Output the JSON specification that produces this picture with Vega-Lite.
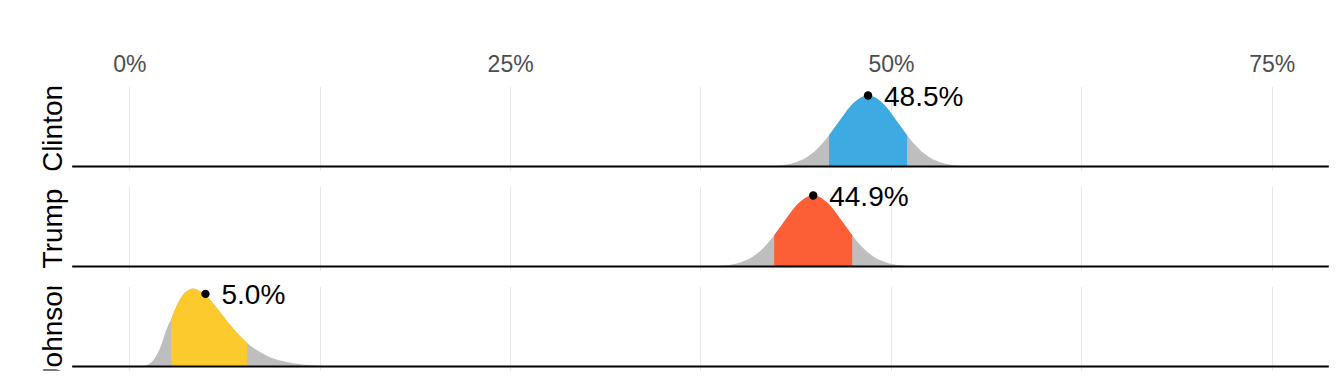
{
  "$schema": "https://vega.github.io/schema/vega-lite/v6.json",
  "padding": {"top": 53.5, "left": 0, "right": 0, "bottom": 0},
  "bounds": "flush",
  "background": "white",
  "data": {"values": [
    {"c":"Clinton","k":"d","x":41.5,"y":0.0004,"i":0},
    {"c":"Clinton","k":"d","x":42,"y":0.0010,"i":0},
    {"c":"Clinton","k":"d","x":42.5,"y":0.0022,"i":0},
    {"c":"Clinton","k":"d","x":43,"y":0.0046,"i":0},
    {"c":"Clinton","k":"d","x":43.5,"y":0.0088,"i":0},
    {"c":"Clinton","k":"d","x":44,"y":0.0159,"i":0},
    {"c":"Clinton","k":"d","x":44.5,"y":0.0270,"i":0},
    {"c":"Clinton","k":"d","x":45,"y":0.0431,"i":0},
    {"c":"Clinton","k":"d","x":45.5,"y":0.0648,"i":0},
    {"c":"Clinton","k":"d","x":45.94,"y":0.0879,"i":1},
    {"c":"Clinton","k":"d","x":46,"y":0.0913,"i":1},
    {"c":"Clinton","k":"d","x":46.5,"y":0.1210,"i":1},
    {"c":"Clinton","k":"d","x":47,"y":0.1506,"i":1},
    {"c":"Clinton","k":"d","x":47.5,"y":0.1760,"i":1},
    {"c":"Clinton","k":"d","x":48,"y":0.1933,"i":1},
    {"c":"Clinton","k":"d","x":48.5,"y":0.1995,"i":1},
    {"c":"Clinton","k":"d","x":49,"y":0.1933,"i":1},
    {"c":"Clinton","k":"d","x":49.5,"y":0.1760,"i":1},
    {"c":"Clinton","k":"d","x":50,"y":0.1506,"i":1},
    {"c":"Clinton","k":"d","x":50.5,"y":0.1210,"i":1},
    {"c":"Clinton","k":"d","x":51,"y":0.0913,"i":1},
    {"c":"Clinton","k":"d","x":51.06,"y":0.0879,"i":1},
    {"c":"Clinton","k":"d","x":51.5,"y":0.0648,"i":0},
    {"c":"Clinton","k":"d","x":52,"y":0.0431,"i":0},
    {"c":"Clinton","k":"d","x":52.5,"y":0.0270,"i":0},
    {"c":"Clinton","k":"d","x":53,"y":0.0159,"i":0},
    {"c":"Clinton","k":"d","x":53.5,"y":0.0088,"i":0},
    {"c":"Clinton","k":"d","x":54,"y":0.0046,"i":0},
    {"c":"Clinton","k":"d","x":54.5,"y":0.0022,"i":0},
    {"c":"Clinton","k":"d","x":55,"y":0.0010,"i":0},
    {"c":"Clinton","k":"d","x":55.5,"y":0.0004,"i":0},
    {"c":"Clinton","k":"m","x":48.5,"y":0.1995,"label":"48.5%"},
    {"c":"Trump","k":"d","x":37.9,"y":0.0004,"i":0},
    {"c":"Trump","k":"d","x":38.4,"y":0.0010,"i":0},
    {"c":"Trump","k":"d","x":38.9,"y":0.0022,"i":0},
    {"c":"Trump","k":"d","x":39.4,"y":0.0046,"i":0},
    {"c":"Trump","k":"d","x":39.9,"y":0.0088,"i":0},
    {"c":"Trump","k":"d","x":40.4,"y":0.0159,"i":0},
    {"c":"Trump","k":"d","x":40.9,"y":0.0270,"i":0},
    {"c":"Trump","k":"d","x":41.4,"y":0.0431,"i":0},
    {"c":"Trump","k":"d","x":41.9,"y":0.0648,"i":0},
    {"c":"Trump","k":"d","x":42.34,"y":0.0879,"i":1},
    {"c":"Trump","k":"d","x":42.4,"y":0.0913,"i":1},
    {"c":"Trump","k":"d","x":42.9,"y":0.1210,"i":1},
    {"c":"Trump","k":"d","x":43.4,"y":0.1506,"i":1},
    {"c":"Trump","k":"d","x":43.9,"y":0.1760,"i":1},
    {"c":"Trump","k":"d","x":44.4,"y":0.1933,"i":1},
    {"c":"Trump","k":"d","x":44.9,"y":0.1995,"i":1},
    {"c":"Trump","k":"d","x":45.4,"y":0.1933,"i":1},
    {"c":"Trump","k":"d","x":45.9,"y":0.1760,"i":1},
    {"c":"Trump","k":"d","x":46.4,"y":0.1506,"i":1},
    {"c":"Trump","k":"d","x":46.9,"y":0.1210,"i":1},
    {"c":"Trump","k":"d","x":47.4,"y":0.0913,"i":1},
    {"c":"Trump","k":"d","x":47.46,"y":0.0879,"i":1},
    {"c":"Trump","k":"d","x":47.9,"y":0.0648,"i":0},
    {"c":"Trump","k":"d","x":48.4,"y":0.0431,"i":0},
    {"c":"Trump","k":"d","x":48.9,"y":0.0270,"i":0},
    {"c":"Trump","k":"d","x":49.4,"y":0.0159,"i":0},
    {"c":"Trump","k":"d","x":49.9,"y":0.0088,"i":0},
    {"c":"Trump","k":"d","x":50.4,"y":0.0046,"i":0},
    {"c":"Trump","k":"d","x":50.9,"y":0.0022,"i":0},
    {"c":"Trump","k":"d","x":51.4,"y":0.0010,"i":0},
    {"c":"Trump","k":"d","x":51.9,"y":0.0004,"i":0},
    {"c":"Trump","k":"m","x":44.9,"y":0.1995,"label":"44.9%"},
    {"c":"Johnson","k":"d","x":0.5,"y":0,"i":0},
    {"c":"Johnson","k":"d","x":1.0,"y":0.002,"i":0},
    {"c":"Johnson","k":"d","x":1.5,"y":0.014,"i":0},
    {"c":"Johnson","k":"d","x":2.0,"y":0.050,"i":0},
    {"c":"Johnson","k":"d","x":2.5,"y":0.110,"i":0},
    {"c":"Johnson","k":"d","x":2.76,"y":0.134,"i":1},
    {"c":"Johnson","k":"d","x":3.0,"y":0.160,"i":1},
    {"c":"Johnson","k":"d","x":3.5,"y":0.200,"i":1},
    {"c":"Johnson","k":"d","x":4.0,"y":0.217,"i":1},
    {"c":"Johnson","k":"d","x":4.2,"y":0.219,"i":1},
    {"c":"Johnson","k":"d","x":4.5,"y":0.215,"i":1},
    {"c":"Johnson","k":"d","x":5.0,"y":0.201,"i":1},
    {"c":"Johnson","k":"d","x":5.5,"y":0.178,"i":1},
    {"c":"Johnson","k":"d","x":6.0,"y":0.151,"i":1},
    {"c":"Johnson","k":"d","x":6.5,"y":0.123,"i":1},
    {"c":"Johnson","k":"d","x":7.0,"y":0.098,"i":1},
    {"c":"Johnson","k":"d","x":7.5,"y":0.076,"i":1},
    {"c":"Johnson","k":"d","x":7.74,"y":0.066,"i":1},
    {"c":"Johnson","k":"d","x":8.0,"y":0.057,"i":0},
    {"c":"Johnson","k":"d","x":8.5,"y":0.043,"i":0},
    {"c":"Johnson","k":"d","x":9.0,"y":0.031,"i":0},
    {"c":"Johnson","k":"d","x":9.5,"y":0.022,"i":0},
    {"c":"Johnson","k":"d","x":10.0,"y":0.016,"i":0},
    {"c":"Johnson","k":"d","x":10.5,"y":0.011,"i":0},
    {"c":"Johnson","k":"d","x":11.0,"y":0.0077,"i":0},
    {"c":"Johnson","k":"d","x":11.5,"y":0.0053,"i":0},
    {"c":"Johnson","k":"d","x":12.0,"y":0.0036,"i":0},
    {"c":"Johnson","k":"d","x":12.5,"y":0.0024,"i":0},
    {"c":"Johnson","k":"d","x":13.0,"y":0.0016,"i":0},
    {"c":"Johnson","k":"d","x":13.5,"y":0.001,"i":0},
    {"c":"Johnson","k":"d","x":14.0,"y":0.0005,"i":0},
    {"c":"Johnson","k":"m","x":5.0,"y":0.204,"label":"5.0%"}
  ]},
  "facet": {
    "row": {"field": "c", "type": "nominal", "sort": ["Clinton", "Trump", "Johnson"], "header": null}
  },
  "spacing": {"row": 16},
  "spec": {
    "width": 1344,
    "height": 84,
    "layer": [
      {
        "transform": [{"filter": "datum.k == 'd'"}],
        "mark": {"type": "area", "color": "#bebebe", "interpolate": "monotone"},
        "encoding": {
          "x": {"field": "x", "type": "quantitative", "title": null,
            "scale": {"domain": [-8.489, 79.747], "nice": false, "zero": false},
            "axis": {"orient": "top", "values": [0, 12.5, 25, 37.5, 50, 62.5, 75],
              "labelExpr": "datum.value % 25 == 0 ? datum.value + '%' : ''"}},
          "y": {"field": "y", "type": "quantitative", "title": null,
            "scale": {"domain": [-0.0112, 0.2248], "nice": false, "zero": false}},
          "y2": {"datum": 0}
        }
      },
      {
        "transform": [{"filter": "datum.k == 'd' && datum.i == 1"}],
        "mark": {"type": "area", "interpolate": "monotone"},
        "encoding": {
          "x": {"field": "x", "type": "quantitative", "title": null},
          "y": {"field": "y", "type": "quantitative", "title": null},
          "y2": {"datum": 0},
          "color": {"field": "c", "type": "nominal", "legend": null,
            "scale": {"domain": ["Clinton", "Trump", "Johnson"], "range": ["#3DAAE1", "#FC5E35", "#FCCA2D"]}}
        }
      },
      {
        "transform": [{"filter": "datum.k == 'm'"}],
        "mark": {"type": "rule", "color": "black", "strokeWidth": 2},
        "encoding": {
          "x": {"datum": -3.75, "type": "quantitative", "title": null},
          "x2": {"datum": 78.75},
          "y": {"datum": 0, "type": "quantitative", "title": null}
        }
      },
      {
        "transform": [{"filter": "datum.k == 'm'"}],
        "mark": {"type": "point", "filled": true, "color": "black", "size": 70, "opacity": 1},
        "encoding": {
          "x": {"field": "x", "type": "quantitative", "title": null},
          "y": {"field": "y", "type": "quantitative", "title": null}
        }
      },
      {
        "transform": [{"filter": "datum.k == 'm'"}],
        "mark": {"type": "text", "align": "left", "baseline": "middle", "dx": 16, "dy": 2, "font": "Liberation Sans", "fontSize": 28, "color": "black"},
        "encoding": {
          "x": {"field": "x", "type": "quantitative", "title": null},
          "y": {"field": "y", "type": "quantitative", "title": null},
          "text": {"field": "label"}
        }
      },
      {
        "transform": [{"filter": "datum.k == 'm'"}],
        "mark": {"type": "text", "angle": 270, "align": "center", "baseline": "alphabetic", "font": "Liberation Sans", "fontSize": 28, "color": "black", "clip": true},
        "encoding": {
          "x": {"datum": -4.42, "type": "quantitative", "title": null},
          "y": {"datum": 0.1068, "type": "quantitative", "title": null},
          "text": {"field": "c"}
        }
      }
    ]
  },
  "config": {
    "view": {"stroke": null},
    "axisY": {"disable": true},
    "axisX": {"ticks": false, "domain": false, "grid": true, "gridColor": "#e8e8e8", "gridWidth": 1,
      "labelFont": "Liberation Sans", "labelFontSize": 23, "labelColor": "#4d4d4d", "labelPadding": 10}
  }
}
